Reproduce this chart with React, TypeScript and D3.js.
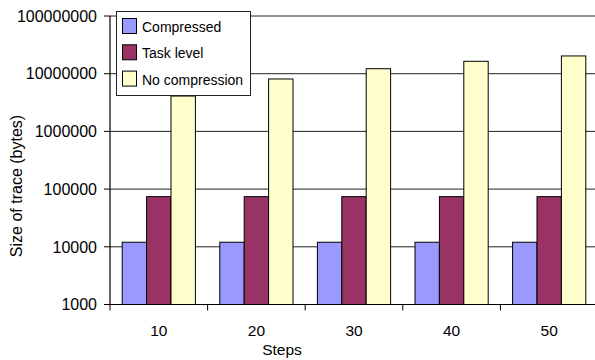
import React from "react";
import * as d3 from "d3";

const categories = ["10", "20", "30", "40", "50"];
const compressed = [12000, 12000, 12000, 12000, 12000];
const taskLevel = [74000, 74000, 74000, 74000, 74000];
const noCompression = [4100000, 8100000, 12200000, 16400000, 20300000];
const seriesNames = ["Compressed", "Task level", "No compression"];
const seriesColors = ["#9999FF", "#993366", "#FFFFCC"];
const yTicks = [1000, 10000, 100000, 1000000, 10000000, 100000000];

const W = 595;
const H = 360;
const left = 110;
const right = 598;
const top = 16;
const bottom = 304.5;

export default function App() {
  const series = [compressed, taskLevel, noCompression];
  const x = d3.scaleBand<string>().domain(categories).range([left, right]).paddingInner(0).paddingOuter(0);
  const bw = x.bandwidth();
  const barW = bw / 4;
  const inner = d3
    .scaleBand<number>()
    .domain([0, 1, 2])
    .range([barW / 2, barW / 2 + 3 * barW]);
  const y = d3.scaleLog().domain([1000, 100000000]).range([bottom, top]);
  const font = "'Liberation Sans', Arial, sans-serif";

  return (
    <svg
      width={W}
      height={H}
      style={{ position: "absolute", left: 0, top: 0, background: "#fff" }}
      fontFamily={font}
    >
      {/* gridlines */}
      {yTicks.slice(1).map((t) => (
        <line key={"g" + t} x1={left} x2={W} y1={y(t)} y2={y(t)} stroke="#222" strokeWidth={1} />
      ))}
      {/* bars */}
      {series.map((vals, si) =>
        vals.map((v, i) => {
          const bx = (x(categories[i]) as number) + (inner(si) as number);
          return (
            <rect
              key={si + "-" + i}
              x={bx}
              y={y(v)}
              width={inner.bandwidth()}
              height={bottom - y(v)}
              fill={seriesColors[si]}
              stroke="#000"
              strokeWidth={1}
            />
          );
        })
      )}
      {/* axes */}
      <line x1={left} x2={left} y1={top} y2={bottom} stroke="#000" strokeWidth={1.2} />
      <line x1={left - 6} x2={W} y1={bottom} y2={bottom} stroke="#000" strokeWidth={1.2} />
      {yTicks.map((t) => (
        <g key={"yt" + t}>
          <line x1={left - 6} x2={left} y1={y(t)} y2={y(t)} stroke="#000" />
          <text x={97} y={y(t)} dy="0.36em" textAnchor="end" fontSize={16} fill="#000">
            {d3.format("d")(t)}
          </text>
        </g>
      ))}
      {categories.map((c) => (
        <g key={"xt" + c}>
          <line x1={x(c) as number} x2={x(c) as number} y1={bottom} y2={bottom + 6} stroke="#000" />
          <text x={(x(c) as number) + bw / 2} y={336} textAnchor="middle" fontSize={15.5} fill="#000">
            {c}
          </text>
        </g>
      ))}
      <text x={282} y={355} textAnchor="middle" fontSize={15.5} fill="#000">
        Steps
      </text>
      <text transform={`translate(21.5, 186) rotate(-90)`} textAnchor="middle" fontSize={16} fill="#000">
        Size of trace (bytes)
      </text>
      {/* legend */}
      <rect x={116.5} y={11.5} width={134} height={84} fill="#fff" stroke="#222" strokeWidth={1} />
      {seriesNames.map((n, i) => (
        <g key={"lg" + n}>
          <rect
            x={122.5}
            y={18.5 + i * 26.3}
            width={14}
            height={15}
            fill={seriesColors[i]}
            stroke="#000"
            strokeWidth={1}
          />
          <text x={142} y={32 + i * 26.3} fontSize={14} fill="#000">
            {n}
          </text>
        </g>
      ))}
    </svg>
  );
}
